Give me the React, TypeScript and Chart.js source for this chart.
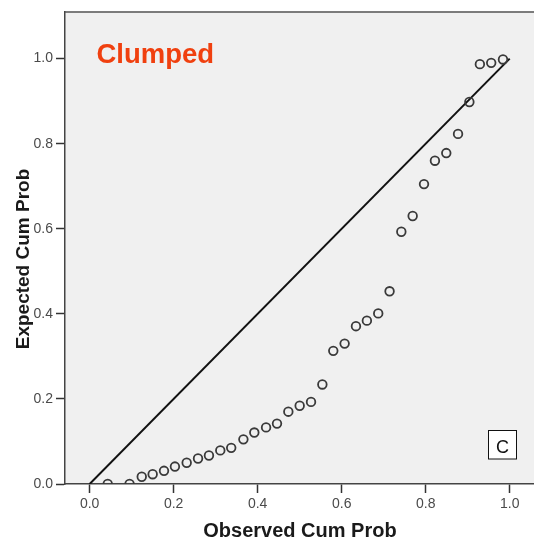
import React, { useEffect, useRef } from "react";
import { Chart, registerables } from "chart.js";

Chart.register(...registerables);

// ---- data ----
const observedCumProb = [
  0.043, 0.095, 0.124, 0.15, 0.177, 0.203, 0.231, 0.258, 0.284, 0.311, 0.337,
  0.366, 0.392, 0.42, 0.446, 0.473, 0.5, 0.527, 0.554, 0.58, 0.607, 0.634, 0.66,
  0.687, 0.714, 0.742, 0.769, 0.796, 0.822, 0.849, 0.877, 0.904, 0.929, 0.956,
  0.984,
];
const expectedCumProb = [
  0, 0, 0.017, 0.023, 0.031, 0.041, 0.05, 0.06, 0.067, 0.079, 0.085, 0.105,
  0.121, 0.133, 0.142, 0.17, 0.184, 0.193, 0.234, 0.313, 0.33, 0.371, 0.384,
  0.401, 0.453, 0.593, 0.63, 0.705, 0.76, 0.778, 0.823, 0.898, 0.987, 0.99,
  0.998,
];
const diagonalX = [0, 1];
const diagonalY = [0, 1];
const tickValues = [0, 0.2, 0.4, 0.6, 0.8, 1.0];
const xTitle = "Observed Cum Prob";
const yTitle = "Expected Cum Prob";
const panelLabel = "Clumped";
const panelLetter = "C";

const FONT = "'Liberation Sans', Arial, Helvetica, sans-serif";

export default function App() {
  const ref = useRef<HTMLCanvasElement | null>(null);

  useEffect(() => {
    const canvas = ref.current;
    if (!canvas) return;

    const decor = {
      id: "decor",
      beforeDraw(chart: any) {
        const { ctx, chartArea: a } = chart;
        ctx.save();
        ctx.fillStyle = "#f0f0f0";
        ctx.fillRect(a.left, a.top, a.right - a.left, a.bottom - a.top);
        ctx.restore();
      },
      afterDraw(chart: any) {
        const { ctx, chartArea: a } = chart;
        ctx.save();
        // top frame line
        ctx.strokeStyle = "#555";
        ctx.lineWidth = 1.5;
        ctx.beginPath();
        ctx.moveTo(a.left, a.top + 0.5);
        ctx.lineTo(a.right, a.top + 0.5);
        ctx.stroke();

        // axis titles
        ctx.fillStyle = "#1a1a1a";
        ctx.font = `bold 20px ${FONT}`;
        ctx.textAlign = "center";
        ctx.textBaseline = "alphabetic";
        ctx.fillText(xTitle, (a.left + a.right) / 2, 536.5);

        ctx.save();
        ctx.translate(28.5, 259);
        ctx.rotate(-Math.PI / 2);
        ctx.font = `bold 19px ${FONT}`;
        ctx.fillText(yTitle, 0, 0);
        ctx.restore();

        // panel label
        ctx.fillStyle = "#f0400f";
        ctx.font = `bold 27.5px ${FONT}`;
        ctx.textAlign = "left";
        ctx.fillText(panelLabel, 96.5, 63);

        // letter box
        ctx.fillStyle = "#ffffff";
        ctx.fillRect(488.5, 430.5, 28, 28.5);
        ctx.strokeStyle = "#111";
        ctx.lineWidth = 1;
        ctx.strokeRect(488.5, 430.5, 28, 28.5);
        ctx.fillStyle = "#111";
        ctx.font = `18px ${FONT}`;
        ctx.textAlign = "center";
        ctx.fillText(panelLetter, 502.5, 453);
        ctx.restore();
      },
    };

    const setTicks = (scale: any) => {
      scale.ticks = tickValues.map((v) => ({ value: v }));
    };

    const chart = new Chart(canvas, {
      type: "scatter",
      data: {
        datasets: [
          {
            type: "line",
            data: diagonalX.map((x, i) => ({ x, y: diagonalY[i] })),
            borderColor: "#111",
            borderWidth: 2,
            pointRadius: 0,
            fill: false,
            order: 2,
          } as any,
          {
            type: "scatter",
            data: observedCumProb.map((x, i) => ({ x, y: expectedCumProb[i] })),
            pointStyle: "circle",
            pointRadius: 4.3,
            pointBorderWidth: 1.8,
            borderColor: "#3a3a3a",
            backgroundColor: "rgba(0,0,0,0)",
            clip: 0,
            order: 1,
          } as any,
        ],
      },
      options: {
        animation: false,
        responsive: false,
        devicePixelRatio: 1,
        events: [],
        layout: { padding: { top: 11, left: 0, right: 0, bottom: 0 } },
        plugins: {
          legend: { display: false },
          tooltip: { enabled: false },
          title: { display: false },
        },
        scales: {
          x: {
            type: "linear",
            min: -0.0587,
            max: 1.06,
            afterBuildTicks: setTicks,
            afterFit: (s: any) => {
              s.height = 54;
            },
            grid: {
              drawOnChartArea: false,
              drawTicks: true,
              tickLength: 9,
              tickColor: "#333",
              tickWidth: 1.5,
            },
            border: { display: true, color: "#444", width: 1.5 },
            ticks: {
              padding: 3,
              color: "#4a4a4a",
              font: { family: FONT, size: 14 },
              maxRotation: 0,
              autoSkip: false,
              callback: (v: any) => Number(v).toFixed(1),
            },
          },
          y: {
            type: "linear",
            min: 0,
            max: 1.111,
            afterBuildTicks: setTicks,
            afterFit: (s: any) => {
              s.width = 65;
            },
            grid: {
              drawOnChartArea: false,
              drawTicks: true,
              tickLength: 9,
              tickColor: "#333",
              tickWidth: 1.5,
            },
            border: { display: true, color: "#444", width: 1.5 },
            ticks: {
              padding: 3,
              color: "#4a4a4a",
              font: { family: FONT, size: 14 },
              autoSkip: false,
              callback: (v: any) => Number(v).toFixed(1),
            },
          },
        },
      } as any,
      plugins: [decor],
    });

    return () => chart.destroy();
  }, []);

  return (
    <div
      style={{
        position: "fixed",
        left: 0,
        top: 0,
        width: 534,
        height: 538,
        overflow: "hidden",
        background: "#ffffff",
      }}
    >
      <canvas
        ref={ref}
        width={541}
        height={538}
        style={{ width: 541, height: 538, display: "block" }}
      />
    </div>
  );
}
